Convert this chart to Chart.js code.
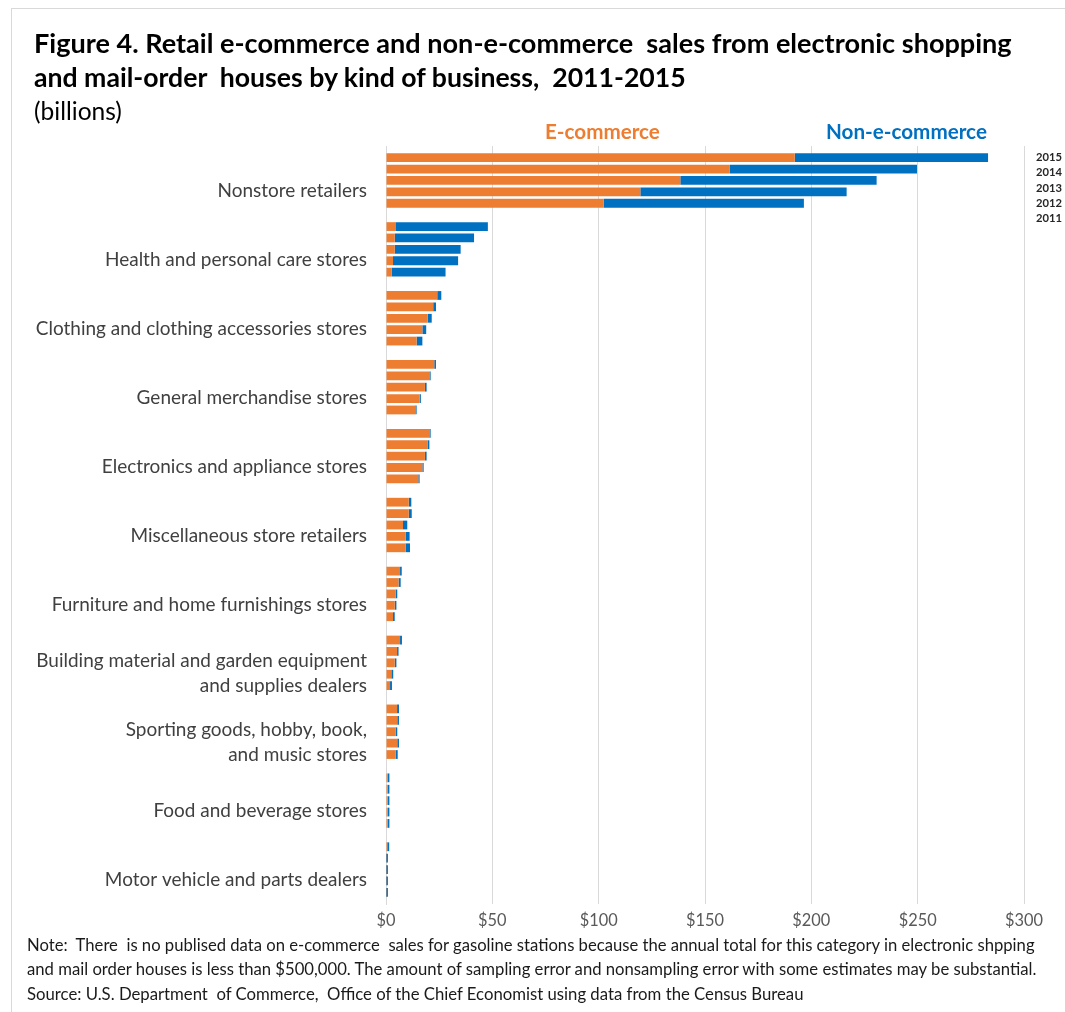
<!DOCTYPE html>
<html><head><meta charset="utf-8">
<script src="https://cdn.jsdelivr.net/npm/chart.js@4/dist/chart.umd.min.js"></script>
<style>
html,body{margin:0;padding:0;background:#fff;}
#wrap{position:relative;width:1065px;height:1012px;overflow:hidden;font-family:Lato, "Open Sans", sans-serif;background:#fff;}
#c{position:absolute;left:0;top:0;}
.t{position:absolute;white-space:pre;line-height:40px;height:40px;}
#frame{position:absolute;left:11px;top:8px;width:1070px;height:1020px;border-left:1px solid #d9d9d9;border-top:1px solid #d9d9d9;box-sizing:border-box;}
</style></head>
<body>
<div id="wrap">
<div id="frame"></div>
<canvas id="c" width="1065" height="1012"></canvas>
<div class="t" data-x="34" data-cy="43" data-w="978" data-weight="bold" style="color:#000">Figure 4. Retail e-commerce and non-e-commerce  sales from electronic shopping</div>
<div class="t" data-x="34" data-cy="77" data-w="654" data-weight="bold" style="color:#000">and mail-order  houses by kind of business,  2011-2015</div>
<div class="t" data-x="34" data-cy="111" data-w="88" data-weight="normal" style="color:#000">(billions)</div>
<div class="t" id="legE" data-x="545" data-cy="131" data-w="115" data-weight="bold" style="color:#ED7D31"></div>
<div class="t" id="legN" data-x="826" data-cy="131" data-w="161" data-weight="bold" style="color:#0070C0"></div>
<div class="t" data-x="27" data-cy="945" data-w="1010" data-weight="normal" style="color:#1a1a1a">Note:  There  is no publised data on e-commerce  sales for gasoline stations because the annual total for this category in electronic shpping</div>
<div class="t" data-x="27" data-cy="969" data-w="1013" data-weight="normal" style="color:#1a1a1a">and mail order houses is less than $500,000. The amount of sampling error and nonsampling error with some estimates may be substantial.</div>
<div class="t" data-x="27" data-cy="994" data-w="778" data-weight="normal" style="color:#1a1a1a">Source: U.S. Department  of Commerce,  Office of the Chief Economist using data from the Census Bureau</div>
</div>
<script>
// ---- data ----
const categories = [
  'Nonstore retailers',
  'Health and personal care stores',
  'Clothing and clothing accessories stores',
  'General merchandise stores',
  'Electronics and appliance stores',
  'Miscellaneous store retailers',
  'Furniture and home furnishings stores',
  ['Building material and garden equipment', 'and supplies dealers'],
  ['Sporting goods, hobby, book,', 'and music stores'],
  'Food and beverage stores',
  'Motor vehicle and parts dealers'
];
const years = ['2015', '2014', '2013', '2012', '2011'];
const seriesNames = ['E-commerce', 'Non-e-commerce'];
const xTickLabels = ['$0', '$50', '$100', '$150', '$200', '$250', '$300'];

const ecom2015 = [192.2, 4.7, 24.1, 22.7, 20.4, 10.7, 6.6, 6.6, 5.2, 0.8, 0.6];
const ecom2014 = [161.7, 4.1, 22.2, 20.4, 19.7, 10.7, 5.9, 5.2, 5.3, 0.8, 0.1];
const ecom2013 = [138.4, 4.1, 19.6, 18.3, 18.3, 8.0, 4.5, 4.1, 4.5, 0.8, 0.1];
const ecom2012 = [119.6, 3.3, 17.1, 15.8, 17.1, 9.2, 4.1, 2.5, 5.3, 0.8, 0.1];
const ecom2011 = [102.3, 2.7, 14.4, 13.8, 15.2, 9.2, 3.3, 1.9, 4.5, 0.8, 0.1];

const non2015 = [90.9, 43.2, 1.9, 0.8, 0.6, 1.2, 0.8, 0.9, 0.9, 0.8, 0.9];
const non2014 = [88.0, 37.3, 1.3, 0.6, 0.7, 1.4, 1.0, 0.7, 0.8, 0.8, 0.8];
const non2013 = [92.3, 31.0, 1.9, 0.8, 0.8, 2.0, 0.8, 0.8, 0.8, 0.8, 0.8];
const non2012 = [97.0, 30.6, 1.8, 0.6, 0.6, 1.9, 0.8, 0.9, 0.8, 0.8, 0.8];
const non2011 = [94.2, 25.3, 2.7, 0.6, 0.6, 2.1, 0.8, 0.9, 1.0, 0.8, 0.8];

const ecomByYear = [ecom2015, ecom2014, ecom2013, ecom2012, ecom2011];
const nonByYear = [non2015, non2014, non2013, non2012, non2011];

// ---- text fitting ----
const FAM = 'Lato';
const mctx = document.createElement('canvas').getContext('2d');
function fitSize(text, weight, w) {
  mctx.font = weight + ' 100px ' + FAM;
  return 100 * w / mctx.measureText(text).width;
}
document.getElementById('legE').textContent = seriesNames[0];
document.getElementById('legN').textContent = seriesNames[1];
document.querySelectorAll('.t').forEach(el => {
  const w = +el.dataset.w, weight = el.dataset.weight;
  el.style.fontWeight = weight;
  el.style.fontSize = fitSize(el.textContent, weight, w) + 'px';
  el.style.left = el.dataset.x + 'px';
  el.style.top = (+el.dataset.cy - 20) + 'px';
});
// year labels at right
const yearCy = [156.7, 171.7, 187.7, 202.7, 218.3];
const wrap = document.getElementById('wrap');
const ySize = fitSize('2015', 'bold', 26);
years.forEach((yr, i) => {
  const d = document.createElement('div');
  d.className = 't';
  d.textContent = yr;
  d.style.fontWeight = 'bold';
  d.style.fontSize = ySize + 'px';
  d.style.color = '#262626';
  d.style.left = '1036px';
  d.style.top = (yearCy[i] - 20) + 'px';
  wrap.appendChild(d);
});

const catSize = fitSize('Building material and garden equipment', 'normal', 331);
const tickSize = fitSize('$300', 'normal', 38);

const ORANGE = '#ED7D31', BLUE = '#0070C0';
const datasets = [];
years.forEach((yr, i) => {
  datasets.push({ label: seriesNames[0] + ' ' + yr, data: ecomByYear[i], stack: yr,
    backgroundColor: ORANGE, borderWidth: 0 });
  datasets.push({ label: seriesNames[1] + ' ' + yr, data: nonByYear[i], stack: yr,
    backgroundColor: BLUE, borderWidth: 0 });
});

new Chart(document.getElementById('c'), {
  type: 'bar',
  data: { labels: categories, datasets },
  options: {
    indexAxis: 'y',
    responsive: false,
    animation: false,
    devicePixelRatio: 1,
    categoryPercentage: 0.827,
    barPercentage: 0.77,
    layout: { padding: { top: 146, right: 41, bottom: 0, left: 0 } },
    plugins: { legend: { display: false }, title: { display: false }, tooltip: { enabled: false } },
    scales: {
      x: {
        stacked: true, min: 0, max: 300,
        afterFit: s => { s.height = 108; },
        ticks: { stepSize: 50, padding: 7, color: '#595959',
          font: { family: FAM, size: tickSize },
          callback: (v, i) => xTickLabels[i] },
        grid: { color: '#d9d9d9', drawTicks: false, lineWidth: 1 },
        border: { display: false }
      },
      y: {
        stacked: true,
        afterFit: s => { s.width = 386; },
        ticks: { padding: 19, color: '#404040', labelOffset: 10.5, crossAlign: 'near',
          font: { family: FAM, size: catSize, lineHeight: 25 / catSize } },
        grid: { display: false, drawTicks: false },
        border: { display: true, color: '#d9d9d9', width: 1 }
      }
    }
  }
});
</script>
</body></html>
